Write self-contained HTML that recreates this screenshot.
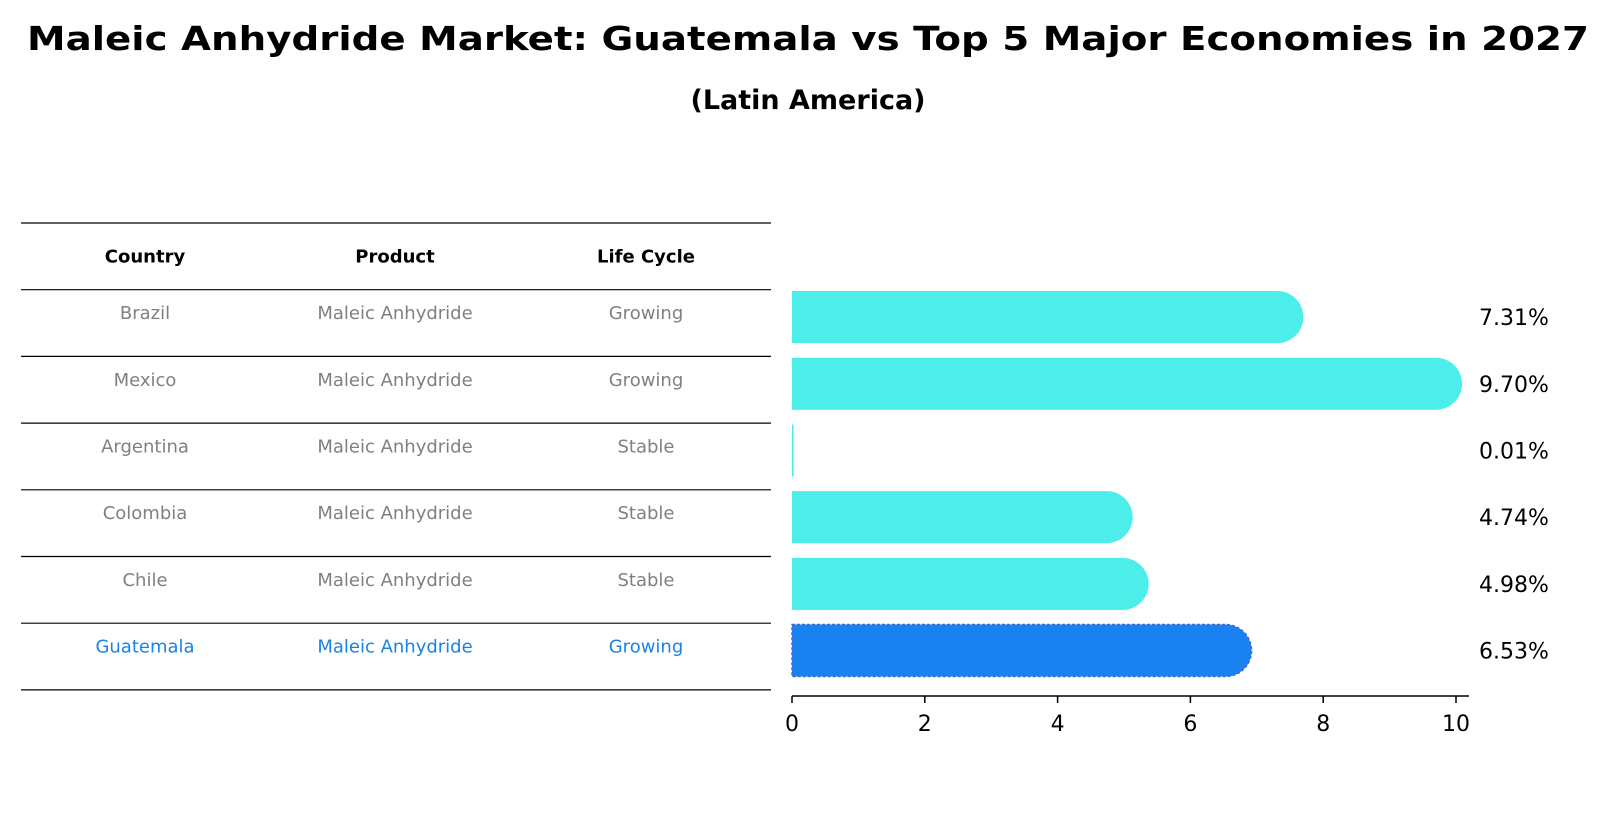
<!DOCTYPE html>
<html><head><meta charset="utf-8"><style>
body{margin:0;background:#fff;}
svg{display:block;font-family:"DejaVu Sans","Liberation Sans",sans-serif;}
</style></head><body>
<svg width="1610" height="823" viewBox="0 0 1610 823">
<text x="808" y="50" text-anchor="middle" font-size="33" font-weight="bold" textLength="1562" lengthAdjust="spacingAndGlyphs">Maleic Anhydride Market: Guatemala vs Top 5 Major Economies in 2027</text>
<text x="808" y="109" text-anchor="middle" font-size="27" font-weight="bold">(Latin America)</text>
<g id="table"></g>
<g id="bars"></g>
<g id="axis"></g>
</svg>
<script>
const countries=["Brazil","Mexico","Argentina","Colombia","Chile","Guatemala"];
const products=["Maleic Anhydride","Maleic Anhydride","Maleic Anhydride","Maleic Anhydride","Maleic Anhydride","Maleic Anhydride"];
const lifeCycles=["Growing","Growing","Stable","Stable","Stable","Growing"];
const values=[7.31,9.70,0.01,4.74,4.98,6.53];
const tickValues=[0,2,4,6,8,10];
const NS="http://www.w3.org/2000/svg";
function mk(tag,attrs,parent){const e=document.createElementNS(NS,tag);for(const k in attrs)e.setAttribute(k,attrs[k]);parent.appendChild(e);return e;}
const x0=792,x1=1456;
function xs(v){return x0+(x1-x0)*v/10;}
const rowTop=223,rowH=66.7;
function yc(i){return rowTop+rowH*(i+1.5);}
const table=document.getElementById('table');
for(let i=0;i<=countries.length+1;i++){
  const y=rowTop+rowH*i;
  const l=mk('line',{x1:21,x2:771,y1:y,y2:y,stroke:'#000','stroke-width':1.2},table);
  
  
}
const colX=[145,395,646];
const heads=["Country","Product","Life Cycle"];
heads.forEach((h,j)=>{
  const t=mk('text',{x:colX[j],y:rowTop+rowH*0.5+6,'text-anchor':'middle','font-size':18,'font-weight':'bold'},table);
  t.textContent=h;
  
  
});
countries.forEach((c,i)=>{
  const col=c==="Guatemala"?'#1a82e6':'#808080';
  [c,products[i],lifeCycles[i]].forEach((s,j)=>{
    const t=mk('text',{x:colX[j],y:yc(i)-4,'text-anchor':'middle','font-size':18,fill:col},table);
    t.textContent=s;
    
    
  });
});
const bars=document.getElementById('bars');
const bh=52,r=26;
values.forEach((v,i)=>{
  const cy=yc(i)-6;
  const top=cy-bh/2,xe=xs(v);
  const hi=countries[i]==="Guatemala";
  const fill=hi?'#1a82f0':'#4deee9';
  let d;
  if(v<0.05){d=`M${x0},${top}H${xe+1}V${top+bh}H${x0}Z`;}
  else d=`M${x0},${top}H${xe}A${r},${r} 0 0 1 ${xe},${top+bh}H${x0}Z`;
  const p=mk('path',{d:d,fill:fill},bars);
  if(hi){p.setAttribute('stroke','#3a6fd0');p.setAttribute('stroke-dasharray','3,2');p.setAttribute('stroke-width','1.5');}
  
  
  const t=mk('text',{x:1479,y:cy+8,'font-size':22},bars);
  t.textContent=v.toFixed(2)+'%';
  
  
});
const axis=document.getElementById('axis');
const ay=696;
const al=mk('line',{x1:x0,x2:1469,y1:ay,y2:ay,stroke:'#000','stroke-width':1.5},axis);


tickValues.forEach(v=>{
  const tk=mk('line',{x1:xs(v),x2:xs(v),y1:ay,y2:ay+7,stroke:'#000','stroke-width':1.5},axis);
  
  
  const t=mk('text',{x:xs(v),y:ay+35,'text-anchor':'middle','font-size':22},axis);
  t.textContent=v;
  
  
});
</script>
</body></html>
